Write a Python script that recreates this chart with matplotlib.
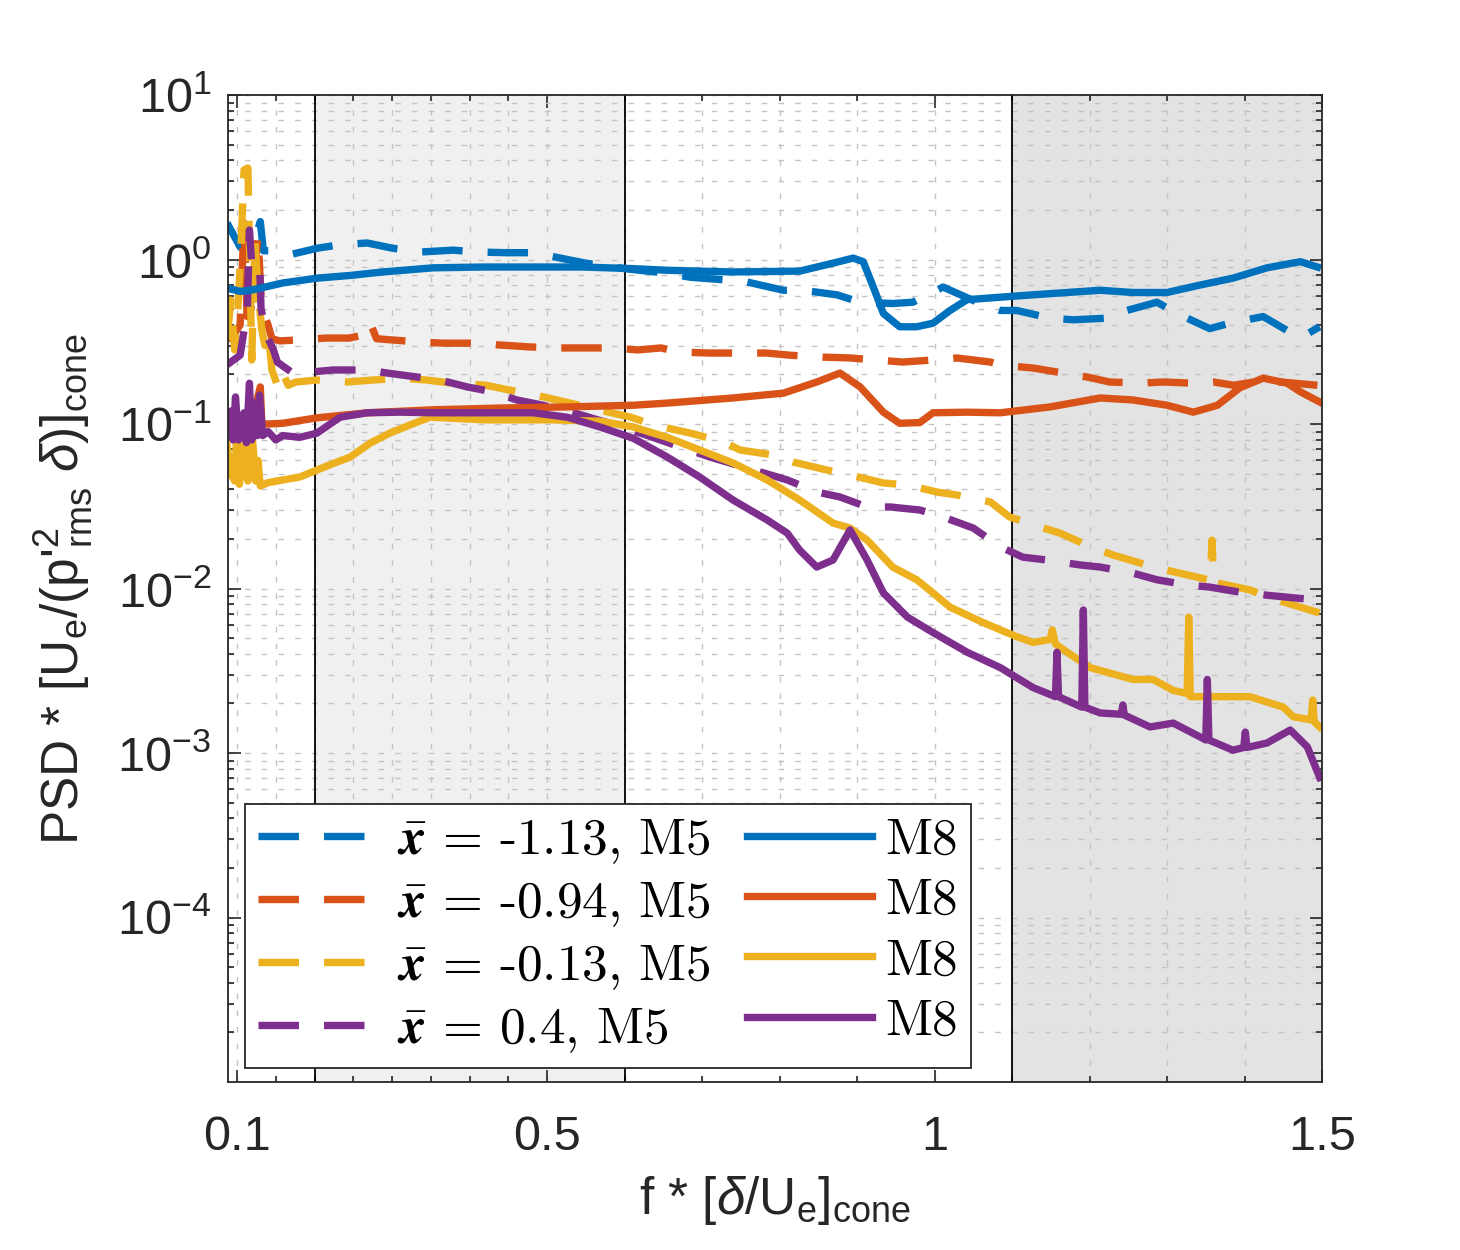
import matplotlib
matplotlib.use('Agg')
import matplotlib.pyplot as plt
from matplotlib.ticker import FixedLocator, FixedFormatter, LogLocator, NullFormatter
from matplotlib.font_manager import FontProperties

plt.rcParams['font.family'] = ['Liberation Sans', 'DejaVu Sans']
plt.rcParams['mathtext.fontset'] = 'custom'
plt.rcParams['mathtext.rm'] = 'Liberation Sans'
plt.rcParams['mathtext.it'] = 'Liberation Sans:italic'
plt.rcParams['mathtext.bf'] = 'Liberation Sans:bold'

# ---------------- data ----------------
# M5 (dashed) and M8 (solid) spectra, (f, PSD) pairs
m5_a = [(0.087,1.67),(0.104,1.19),(0.117,1.10),(0.130,1.70),(0.134,1.13),(0.152,1.13),(0.172,1.08),
        (0.203,1.17),(0.233,1.23),(0.268,1.26),(0.301,1.17),(0.336,1.11),(0.379,1.14),(0.410,1.11),
        (0.448,1.10),(0.482,1.10),(0.517,1.02),(0.55,0.95),(0.60,0.88),(0.65,0.83),(0.685,0.78),
        (0.732,0.75),(0.758,0.73),(0.805,0.65),(0.830,0.65),(0.874,0.61),(0.904,0.55),(0.946,0.54),
        (0.972,0.55),(1.011,0.68),(1.059,0.54),(1.085,0.49),(1.106,0.49),(1.149,0.44),(1.179,0.43),
        (1.223,0.44),(1.248,0.49),(1.287,0.55),(1.313,0.47),(1.355,0.38),(1.381,0.41),(1.424,0.45),
        (1.455,0.37),(1.475,0.34),(1.497,0.39)]
m8_a = [(0.087,0.67),(0.104,0.64),(0.117,0.65),(0.130,0.67),(0.159,0.72),(0.203,0.77),(0.246,0.80),
        (0.288,0.84),(0.353,0.89),(0.417,0.90),(0.482,0.90),(0.546,0.90),(0.611,0.88),(0.655,0.86),
        (0.740,0.84),(0.826,0.85),(0.869,0.95),(0.895,1.02),(0.908,0.97),(0.921,0.68),(0.934,0.47),
        (0.955,0.39),(0.977,0.39),(0.998,0.41),(1.020,0.49),(1.042,0.57),(1.085,0.59),(1.127,0.61),
        (1.171,0.63),(1.214,0.65),(1.256,0.63),(1.300,0.63),(1.343,0.70),(1.385,0.77),(1.429,0.89),
        (1.472,0.97),(1.494,0.90)]
m5_b = [(0.087,0.39),(0.092,0.33),(0.104,0.40),(0.109,1.67),(0.113,0.45),(0.118,0.50),(0.127,1.40),
        (0.131,0.60),(0.136,0.45),(0.140,0.40),(0.145,0.33),(0.155,0.32),(0.176,0.324),(0.215,0.333),
        (0.245,0.333),(0.266,0.35),(0.272,0.41),(0.280,0.33),(0.301,0.324),(0.336,0.315),(0.366,0.31),
        (0.401,0.31),(0.440,0.302),(0.478,0.294),(0.517,0.29),(0.551,0.29),(0.586,0.29),(0.617,0.282),
        (0.647,0.29),(0.670,0.274),(0.709,0.27),(0.739,0.27),(0.783,0.27),(0.813,0.262),(0.856,0.255),
        (0.891,0.252),(0.925,0.245),(0.959,0.238),(0.998,0.245),(1.029,0.252),(1.072,0.238),
        (1.085,0.228),(1.127,0.219),(1.158,0.207),(1.197,0.193),(1.226,0.18),(1.265,0.177),
        (1.295,0.18),(1.334,0.177),(1.360,0.18),(1.386,0.172),(1.412,0.18),(1.447,0.18),(1.494,0.172)]
m8_b = [(0.087,0.092),(0.095,0.10),(0.100,0.09),(0.110,0.10),(0.117,0.095),(0.130,0.168),(0.132,0.10),
        (0.140,0.10),(0.159,0.101),(0.203,0.109),(0.268,0.117),(0.353,0.122),(0.439,0.125),
        (0.526,0.127),(0.611,0.130),(0.655,0.134),(0.740,0.144),(0.805,0.154),(0.848,0.18),
        (0.878,0.204),(0.904,0.168),(0.934,0.118),(0.955,0.101),(0.981,0.102),(0.998,0.117),
        (1.042,0.118),(1.085,0.117),(1.149,0.127),(1.214,0.144),(1.256,0.14),(1.300,0.130),
        (1.334,0.118),(1.365,0.13),(1.394,0.166),(1.424,0.19),(1.455,0.177),(1.472,0.157),(1.497,0.136)]
m5_c = [(0.087,0.324),(0.092,0.567),(0.097,0.282),(0.101,0.49),(0.105,1.14),(0.109,3.5),(0.114,3.6),
        (0.117,0.75),(0.119,0.245),(0.123,1.31),(0.127,0.65),(0.132,0.37),(0.136,0.30),(0.140,0.37),
        (0.145,0.213),(0.152,0.172),(0.158,0.21),(0.166,0.172),(0.176,0.18),(0.203,0.185),(0.242,0.18),
        (0.275,0.185),(0.310,0.19),(0.345,0.185),(0.378,0.177),(0.421,0.172),(0.451,0.161),
        (0.485,0.150),(0.524,0.136),(0.566,0.122),(0.608,0.110),(0.640,0.098),(0.685,0.088),
        (0.727,0.078),(0.749,0.0695),(0.792,0.0648),(0.817,0.0588),(0.861,0.0525),(0.891,0.049),
        (0.934,0.0438),(0.965,0.0426),(1.003,0.0386),(1.029,0.037),(1.072,0.0336),(1.097,0.0272),
        (1.136,0.0237),(1.162,0.0217),(1.205,0.0176),(1.230,0.016),(1.274,0.0139),(1.300,0.0129),
        (1.343,0.0116),(1.356,0.0112),(1.358,0.0197),(1.360,0.0110),(1.365,0.0108),(1.407,0.0098),
        (1.429,0.0089),(1.472,0.0077),(1.497,0.0071)]
m8_c = [(0.087,0.075),(0.092,0.05),(0.097,0.045),(0.100,0.10),(0.103,0.043),(0.110,0.075),(0.114,0.045),
        (0.120,0.08),(0.124,0.045),(0.127,0.06),(0.130,0.042),(0.140,0.044),(0.159,0.0457),
        (0.181,0.0476),(0.203,0.0525),(0.226,0.058),(0.246,0.063),(0.272,0.0766),(0.297,0.088),
        (0.323,0.0986),(0.349,0.110),(0.419,0.106),(0.505,0.106),(0.568,0.104),(0.611,0.096),
        (0.655,0.083),(0.697,0.0695),(0.740,0.058),(0.784,0.0457),(0.826,0.0345),(0.869,0.025),
        (0.891,0.0233),(0.913,0.0197),(0.946,0.0135),(0.977,0.0113),(0.998,0.0094),(1.020,0.0077),
        (1.063,0.0062),(1.085,0.0056),(1.106,0.0051),(1.127,0.0047),(1.149,0.0049),(1.152,0.0056),
        (1.156,0.0046),(1.171,0.0041),(1.201,0.0033),(1.256,0.0028),(1.282,0.0028),(1.308,0.0024),
        (1.326,0.0023),(1.328,0.0067),(1.330,0.0022),(1.352,0.0022),(1.407,0.0022),(1.450,0.0019),
        (1.463,0.00166),(1.486,0.00159),(1.488,0.0021),(1.490,0.00155),(1.497,0.00144)]
m5_d = [(0.087,0.229),(0.104,0.262),(0.109,0.37),(0.113,0.43),(0.116,1.51),(0.119,0.93),(0.129,0.95),
        (0.131,0.50),(0.139,0.34),(0.147,0.282),(0.152,0.238),(0.170,0.207),(0.181,0.204),
        (0.224,0.213),(0.268,0.213),(0.294,0.204),(0.332,0.193),(0.362,0.185),(0.397,0.168),
        (0.430,0.157),(0.461,0.14),(0.495,0.13),(0.54,0.115),(0.59,0.098),(0.63,0.085),(0.672,0.0725),
        (0.710,0.063),(0.810,0.0457),(0.848,0.0386),(0.878,0.036),(0.913,0.0313),(0.943,0.0313),
        (0.981,0.030),(1.011,0.0272),(1.050,0.0233),(1.085,0.0179),(1.114,0.0155),(1.145,0.0149),
        (1.188,0.0139),(1.214,0.0135),(1.256,0.0124),(1.287,0.0113),(1.326,0.0105),(1.355,0.0102),
        (1.394,0.0095),(1.429,0.0091),(1.472,0.0087),(1.497,0.0085)]
m8_d = [(0.087,0.088),(0.092,0.12),(0.095,0.08),(0.098,0.146),(0.102,0.08),(0.106,0.09),(0.109,0.117),
        (0.112,0.077),(0.116,0.177),(0.119,0.08),(0.123,0.134),(0.126,0.085),(0.129,0.15),(0.133,0.085),
        (0.140,0.09),(0.150,0.08),(0.159,0.085),(0.181,0.083),(0.203,0.088),(0.233,0.11),(0.268,0.117),
        (0.310,0.118),(0.353,0.117),(0.397,0.117),(0.439,0.117),(0.482,0.117),(0.526,0.110),
        (0.568,0.096),(0.611,0.082),(0.655,0.063),(0.697,0.0476),(0.740,0.0345),(0.784,0.0261),
        (0.810,0.0217),(0.826,0.0171),(0.848,0.0135),(0.869,0.0149),(0.891,0.0227),(0.913,0.0149),
        (0.934,0.0094),(0.965,0.0067),(0.998,0.0054),(1.042,0.0041),(1.085,0.0033),(1.127,0.0025),
        (1.156,0.0022),(1.158,0.0041),(1.160,0.0022),(1.190,0.0019),(1.192,0.0074),(1.194,0.0019),
        (1.214,0.00175),(1.241,0.00172),(1.243,0.00196),(1.245,0.0017),(1.278,0.00144),(1.308,0.00152),
        (1.343,0.00125),(1.350,0.0012),(1.352,0.0028),(1.354,0.0012),(1.385,0.00104),(1.399,0.00108),
        (1.401,0.00134),(1.403,0.00108),(1.429,0.00115),(1.459,0.00138),(1.481,0.00109),(1.497,0.00071)]

positions = ['-1.13', '-0.94', '-0.13', '0.4']
colors = ['#0072BD', '#D95319', '#EDB120', '#7E2F8E']
m5_series = [m5_a, m5_b, m5_c, m5_d]
m8_series = [m8_a, m8_b, m8_c, m8_d]

xticks_major = [0.1, 0.5, 1.0, 1.5]
xtick_labels = ['0.1', '0.5', '1', '1.5']
xticks_minor = [0.15, 0.2, 0.25, 0.3, 0.35, 0.4, 0.45, 0.6, 0.7, 0.8, 0.9, 1.1, 1.2, 1.3, 1.4]
ytick_exp = [-4, -3, -2, -1, 0, 1]
band_light = (0.2, 0.6)
band_dark = (1.1, 1.5)

# ---------------- figure ----------------
fig = plt.figure(figsize=(14.6, 12.5), dpi=100)
ax = fig.add_axes([0.1562, 0.1344, 0.7493, 0.7896])
ax.set_yscale('log')
ax.set_xlim(0.0884, 1.5)
ax.set_ylim(1e-5, 10)

ax.axvspan(*band_light, color='#f0f0f0', zorder=0.1, lw=0)
ax.axvspan(*band_dark, color='#e3e3e3', zorder=0.1, lw=0)
for xv in [band_light[0], band_light[1], band_dark[0]]:
    ax.axvline(xv, color='black', lw=1.3, zorder=1.5)

dash = (0, (5.5, 3.4))
handles = []
for s, c, p in zip(m5_series, colors, positions):
    xs = [a for a, b in s]
    ys = [b for a, b in s]
    h, = ax.plot(xs, ys, color=c, lw=5.3, ls=dash, zorder=3,
                 label=r'$\bar{\boldsymbol{x}}$ = ' + p + ', M5')
    handles.append(h)
for s, c in zip(m8_series, colors):
    xs = [a for a, b in s]
    ys = [b for a, b in s]
    h, = ax.plot(xs, ys, color=c, lw=5.3, ls='-', zorder=3, label='M8')
    handles.append(h)

# ticks
ax.xaxis.set_major_locator(FixedLocator(xticks_major))
ax.xaxis.set_major_formatter(FixedFormatter(xtick_labels))
ax.xaxis.set_minor_locator(FixedLocator(xticks_minor))
ax.set_yticks([10.0 ** e for e in ytick_exp])
ax.set_yticklabels([r'$\mathregular{10^{%d}}$' % e for e in ytick_exp])
ax.yaxis.set_minor_locator(LogLocator(base=10, subs=range(2, 10), numticks=20))
ax.yaxis.set_minor_formatter(NullFormatter())
ax.tick_params(which='both', direction='in', top=True, right=True, colors='#262626', width=1.2)
ax.tick_params(which='major', length=9, labelsize=35, labelcolor='#262626')
ax.tick_params(which='minor', length=4.5)
ax.tick_params(axis='x', which='major', pad=24)
ax.tick_params(axis='y', which='major', pad=12)

ax.set_axisbelow(True)
ax.grid(True, which='both', axis='both', color='#c4c4c4', lw=1.0, ls=(0, (4, 8)))
for sp in ax.spines.values():
    sp.set_linewidth(1.3)
    sp.set_color('#262626')
    sp.set_zorder(4)

ax.set_xlabel(r'f * [$\delta$/U$_{\mathregular{e}}$]$_{\mathregular{cone}}$', fontsize=37,
              color='#262626', labelpad=10)
ax.set_ylabel(r"PSD * [U$_{\mathregular{e}}$/(p'$^{\mathregular{2}}_{\mathregular{rms}}$ $\delta$)]$_{\mathregular{cone}}$",
              fontsize=37, color='#262626', labelpad=16)

leg = ax.legend(handles=handles, ncol=2, loc='lower left', bbox_to_anchor=(0.0155, 0.0142),
                borderaxespad=0, frameon=True, fancybox=False, framealpha=1, edgecolor='#262626',
                prop=FontProperties(family='cmr10', size=37, math_fontfamily='cm'),
                handlelength=2.45, handletextpad=0.25, columnspacing=0.7, labelspacing=0.28,
                borderpad=0.25)
leg.get_frame().set_linewidth(1.3)
leg.set_zorder(5)

fig.savefig('out.png', dpi=100)
